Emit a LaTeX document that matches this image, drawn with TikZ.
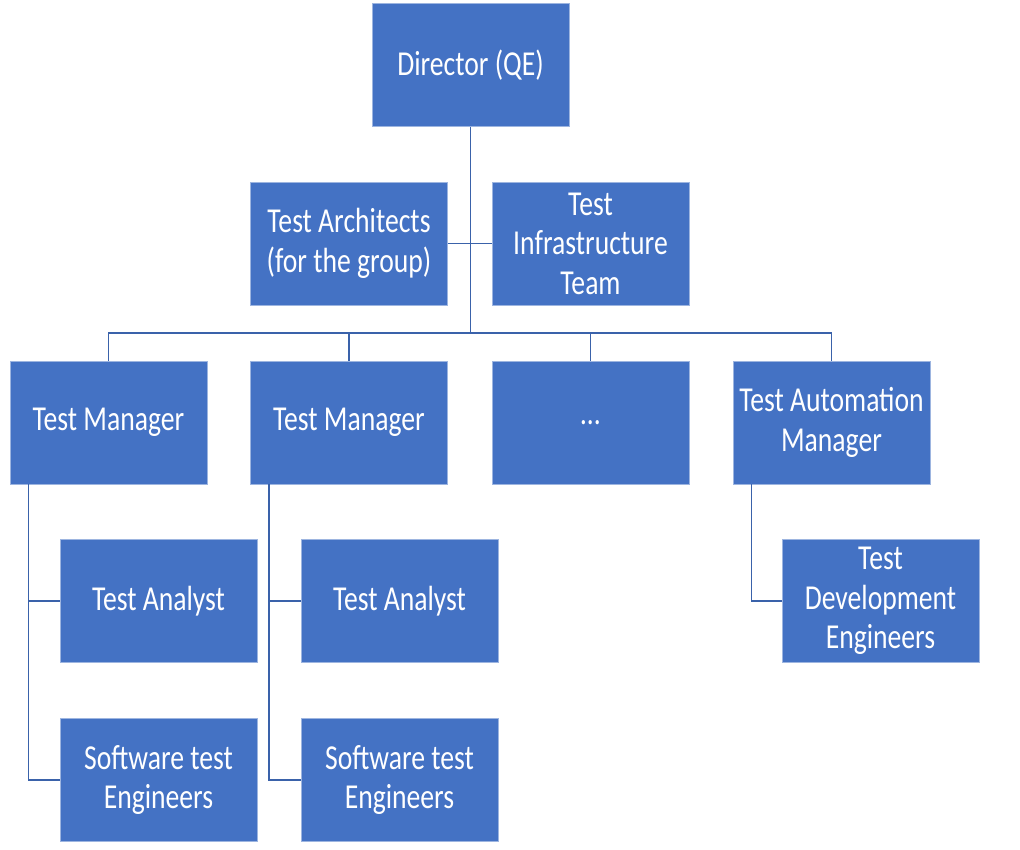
\documentclass[tikz,border=0pt]{standalone}
\usepackage{fontspec}
\setmainfont{Carlito}[FakeStretch=0.79]
\definecolor{boxfill}{HTML}{4472C4}
\definecolor{boxedge}{HTML}{9DB5E0}
\definecolor{linkc}{HTML}{3A62AA}
\begin{document}
\begin{tikzpicture}[x=1pt,y=-1pt,
  orgbox/.style={rectangle,fill=boxfill,draw=boxedge,line width=0.8pt,
    minimum width=197pt,minimum height=123pt,inner sep=0pt,
    text=white,align=center,font=\fontsize{35}{39.5}\selectfont},
  link/.style={draw=linkc,line width=1.7pt}]
\useasboundingbox (0,0) rectangle (1020,850);
\node[orgbox] (dir) at (470.5,65) {Director (QE)};
\node[orgbox] (arch) at (349,243.5) {Test Architects\\(for the group)};
\node[orgbox] (infra) at (590.5,243.5) {Test\\Infrastructure\\Team};
\node[orgbox] (tm1) at (108.5,422.5) {Test Manager};
\node[orgbox] (tm2) at (349,422.5) {Test Manager};
\node[orgbox] (dots) at (590.5,422.5) {…};
\node[orgbox] (tam) at (831.5,422.5) {Test Automation\\Manager};
\node[orgbox] (tan1) at (158.5,601) {Test Analyst};
\node[orgbox] (se1) at (158.5,780) {Software test\\Engineers};
\node[orgbox] (tan2) at (399.5,601) {Test Analyst};
\node[orgbox] (se2) at (399.5,780) {Software test\\Engineers};
\node[orgbox] (tde) at (880.5,601) {Test\\Development\\Engineers};
\coordinate (bus) at (470.5,333);
\path[link] (dir.south) -- (bus);
\path[link] (arch.east) -- (infra.west);
\path[link] (tm1.north) |- (bus) -| (tam.north);
\path[link] (tm2.north) -- (tm2.north |- bus);
\path[link] (dots.north) -- (dots.north |- bus);
\path[link] ([xshift=19pt]tm1.south west) |- (tan1.west);
\path[link] ([xshift=19pt]tm1.south west) |- (se1.west);
\path[link] ([xshift=19pt]tm2.south west) |- (tan2.west);
\path[link] ([xshift=19pt]tm2.south west) |- (se2.west);
\path[link] ([xshift=19pt]tam.south west) |- (tde.west);
\end{tikzpicture}
\end{document}
